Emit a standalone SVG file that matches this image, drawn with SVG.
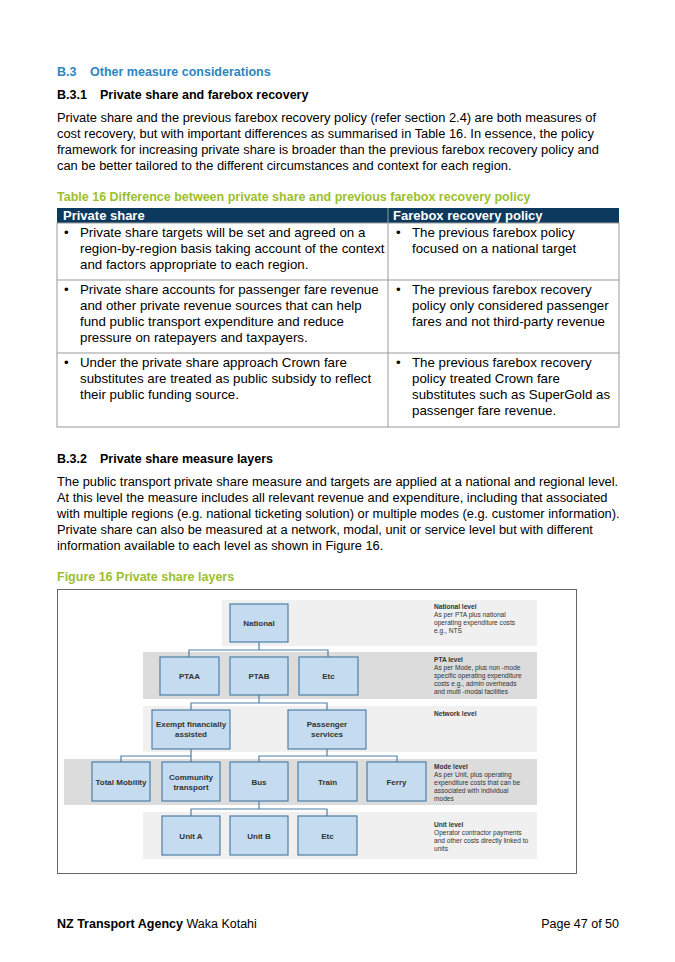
<svg xmlns="http://www.w3.org/2000/svg" width="675" height="962" viewBox="0 0 675 962">
<style>
text{font-family:"Liberation Sans",Arial,sans-serif;fill:#000}
.b{font-size:12.85px}
.tb{font-size:13.3px}
.h{font-weight:bold;font-size:12.5px}
.blue{fill:#2e86c1;font-weight:bold;font-size:12.5px}
.grn{fill:#9cbf2b;font-weight:bold;font-size:12.5px}
.th{fill:#fff;font-weight:bold;font-size:13px}
.lt{fill:#f0f0f0}.dk{fill:#dcdcdc}
.box rect{fill:#c5dcf0;stroke:#4f7fa8;stroke-width:1.2}
.box text{font-size:8px;font-weight:bold;fill:#333;text-anchor:middle}
.lab{font-size:6.6px;fill:#333}
.lab .t{font-weight:bold}
#conn path{fill:none;stroke:#4f7fa8;stroke-width:1.2}
</style>
<rect width="675" height="962" fill="#fff"/>
<text y="76" class="blue"><tspan x="57">B.3</tspan><tspan x="90">Other measure considerations</tspan></text>
<text y="99" class="h"><tspan x="57">B.3.1</tspan><tspan x="100">Private share and farebox recovery</tspan></text>
<text class="b"><tspan x="57" y="122">Private share and the previous farebox recovery policy (refer section 2.4) are both measures of</tspan><tspan x="57" y="138">cost recovery, but with important differences as summarised in Table 16. In essence, the policy</tspan><tspan x="57" y="154">framework for increasing private share is broader than the previous farebox recovery policy and</tspan><tspan x="57" y="170">can be better tailored to the different circumstances and context for each region.</tspan></text>
<text x="57" y="201" class="grn">Table 16 Difference between private share and previous farebox recovery policy</text>
<rect x="57" y="208" width="562" height="15" fill="#0b3a5e"/>
<text x="63" y="220" class="th">Private share</text>
<text x="393" y="220" class="th">Farebox recovery policy</text>
<g fill="none" stroke="#999" stroke-width="1">
<rect x="57" y="223" width="562" height="204"/>
<line x1="388" y1="208" x2="388" y2="427"/>
<line x1="57" y1="280" x2="619" y2="280"/>
<line x1="57" y1="353" x2="619" y2="353"/>
</g>
<text class="tb"><tspan x="64" y="237">•</tspan><tspan x="80" y="237">Private share targets will be set and agreed on a</tspan><tspan x="80" y="253">region-by-region basis taking account of the context</tspan><tspan x="80" y="269">and factors appropriate to each region.</tspan>
<tspan x="64" y="294">•</tspan><tspan x="80" y="294">Private share accounts for passenger fare revenue</tspan><tspan x="80" y="310">and other private revenue sources that can help</tspan><tspan x="80" y="326">fund public transport expenditure and reduce</tspan><tspan x="80" y="342">pressure on ratepayers and taxpayers.</tspan>
<tspan x="64" y="367">•</tspan><tspan x="80" y="367">Under the private share approach Crown fare</tspan><tspan x="80" y="383">substitutes are treated as public subsidy to reflect</tspan><tspan x="80" y="399">their public funding source.</tspan>
<tspan x="396" y="237">•</tspan><tspan x="412" y="237">The previous farebox policy</tspan><tspan x="412" y="253">focused on a national target</tspan>
<tspan x="396" y="294">•</tspan><tspan x="412" y="294">The previous farebox recovery</tspan><tspan x="412" y="310">policy only considered passenger</tspan><tspan x="412" y="326">fares and not third-party revenue</tspan>
<tspan x="396" y="367">•</tspan><tspan x="412" y="367">The previous farebox recovery</tspan><tspan x="412" y="383">policy treated Crown fare</tspan><tspan x="412" y="399">substitutes such as SuperGold as</tspan><tspan x="412" y="415">passenger fare revenue.</tspan></text>
<text y="463" class="h"><tspan x="57">B.3.2</tspan><tspan x="100">Private share measure layers</tspan></text>
<text class="b"><tspan x="57" y="486">The public transport private share measure and targets are applied at a national and regional level.</tspan><tspan x="57" y="502">At this level the measure includes all relevant revenue and expenditure, including that associated</tspan><tspan x="57" y="518">with multiple regions (e.g. national ticketing solution) or multiple modes (e.g. customer information).</tspan><tspan x="57" y="534">Private share can also be measured at a network, modal, unit or service level but with different</tspan><tspan x="57" y="550">information available to each level as shown in Figure 16.</tspan></text>
<text x="57" y="581" class="grn">Figure 16 Private share layers</text>
<rect x="57.5" y="589.5" width="519" height="284" fill="#fff" stroke="#666"/>
<rect x="222" y="600" width="315" height="46" class="lt"/>
<rect x="143" y="652" width="394" height="47" class="dk"/>
<rect x="143" y="706" width="394" height="46" class="lt"/>
<rect x="64" y="759" width="473" height="46" class="dk"/>
<rect x="143" y="812" width="394" height="47" class="lt"/>
<g id="conn">
<path d="M259 642V650M189 657V650H328V657"/>
<path d="M259 695V703M191 710V703H327V710"/>
<path d="M191 749V756M121 762V756H191V762"/>
<path d="M327 749V756M259 762V756H397V762"/>
<path d="M259 801V809M191 816V809H327V816"/>
</g>
<g class="box">
<g id="n-national"><rect x="230" y="604" width="58" height="38"/><text x="259" y="626">National</text></g>
<g id="n-ptaa"><rect x="160" y="657" width="59" height="38"/><text x="189.5" y="679">PTAA</text></g>
<g id="n-ptab"><rect x="230" y="657" width="58" height="38"/><text x="259" y="679">PTAB</text></g>
<g id="n-etc1"><rect x="299" y="657" width="59" height="38"/><text x="328.5" y="679">Etc</text></g>
<g id="n-exempt"><rect x="152" y="710" width="78" height="39"/><text x="191" y="727">Exempt financially</text><text x="191" y="737">assisted</text></g>
<g id="n-passenger"><rect x="288" y="710" width="78" height="39"/><text x="327" y="727">Passenger</text><text x="327" y="737">services</text></g>
<g id="n-total"><rect x="92" y="762" width="58" height="39"/><text x="121" y="785">Total Mobility</text></g>
<g id="n-community"><rect x="162" y="762" width="58" height="39"/><text x="191" y="780">Community</text><text x="191" y="790">transport</text></g>
<g id="n-bus"><rect x="230" y="762" width="58" height="39"/><text x="259" y="785">Bus</text></g>
<g id="n-train"><rect x="298" y="762" width="59" height="39"/><text x="327.5" y="785">Train</text></g>
<g id="n-ferry"><rect x="367" y="762" width="59" height="39"/><text x="396.5" y="785">Ferry</text></g>
<g id="n-unita"><rect x="162" y="816" width="58" height="39"/><text x="191" y="839">Unit A</text></g>
<g id="n-unitb"><rect x="230" y="816" width="58" height="39"/><text x="259" y="839">Unit B</text></g>
<g id="n-etc2"><rect x="298" y="816" width="59" height="39"/><text x="327.5" y="839">Etc</text></g>
</g>
<text class="lab"><tspan x="434" y="609" class="t">National level</tspan><tspan x="434" y="617">As per PTA plus national</tspan><tspan x="434" y="625">operating expenditure  costs</tspan><tspan x="434" y="633">e.g., NTS</tspan></text>
<text class="lab"><tspan x="434" y="662" class="t">PTA level</tspan><tspan x="434" y="670">As per Mode, plus non -mode</tspan><tspan x="434" y="678">specific operating expenditure</tspan><tspan x="434" y="686">costs e.g., admin overheads</tspan><tspan x="434" y="694">and multi -modal facilities</tspan></text>
<text class="lab"><tspan x="434" y="716" class="t">Network level</tspan></text>
<text class="lab"><tspan x="434" y="769" class="t">Mode level</tspan><tspan x="434" y="777">As per Unit, plus operating</tspan><tspan x="434" y="785">expenditure costs that can be</tspan><tspan x="434" y="793">associated with individual</tspan><tspan x="434" y="801">modes</tspan></text>
<text class="lab"><tspan x="434" y="827" class="t">Unit level</tspan><tspan x="434" y="835">Operator contractor payments</tspan><tspan x="434" y="843">and other costs directly linked to</tspan><tspan x="434" y="851">units</tspan></text>
<text x="57" y="928" style="font-size:12.5px"><tspan font-weight="bold">NZ Transport Agency</tspan> Waka Kotahi</text>
<text x="619" y="928" style="font-size:12.5px" text-anchor="end">Page 47 of 50</text>
</svg>
